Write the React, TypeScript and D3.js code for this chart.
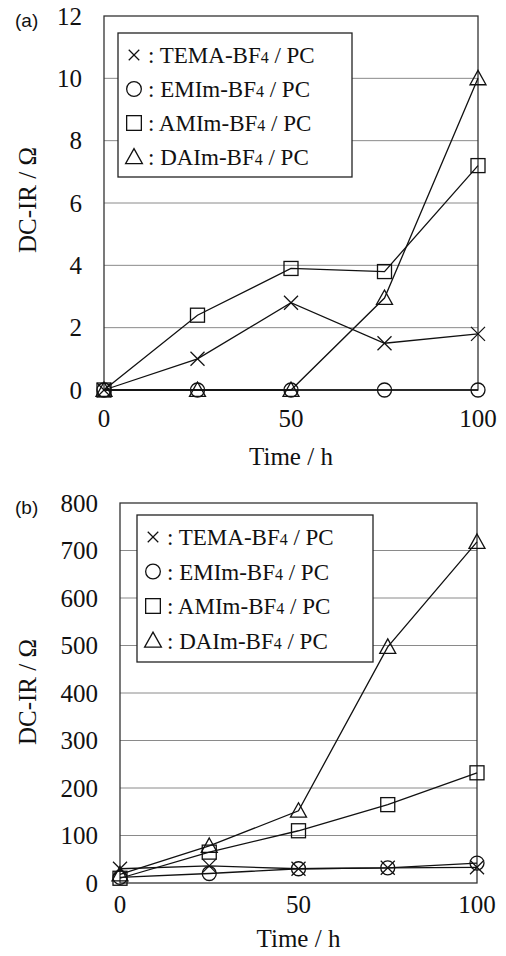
import React from "react";
import * as d3 from "d3";

// time axis (h)
const times = [0, 25, 50, 75, 100];

// panel (a) DC-IR / ohm
const temaA = [0, 1.0, 2.8, 1.5, 1.8];
const emimA = [0, 0, 0, 0, 0];
const amimA = [0, 2.4, 3.9, 3.8, 7.2];
const daimA = [0, 0, 0, 2.95, 10.0];

// panel (b) DC-IR / ohm
const temaB = [30, 36, 30, 32, 33];
const emimB = [12, 20, 30, 32, 42];
const amimB = [10, 65, 110, 165, 232];
const daimB = [18, 78, 152, 497, 718];

const yTicksA = [0, 2, 4, 6, 8, 10, 12];
const yTicksB = [0, 100, 200, 300, 400, 500, 600, 700, 800];
const xTicks = [0, 50, 100];

const seriesNames = ["TEMA", "EMIm", "AMIm", "DAIm"];
const markerKinds = ["x", "circle", "square", "triangle"];

const serif = "'Liberation Serif', 'Times New Roman', serif";
const sans = "'Liberation Sans', Arial, sans-serif";

const Marker = ({ kind, x, y, s = 1 }) => {
  const st = { fill: "none", stroke: "#111", strokeWidth: 1.3 };
  if (kind === "x") {
    const d = 7 * s;
    return (
      <g style={st}>
        <line x1={x - d} y1={y - d} x2={x + d} y2={y + d} />
        <line x1={x - d} y1={y + d} x2={x + d} y2={y - d} />
      </g>
    );
  }
  if (kind === "circle") return <circle cx={x} cy={y} r={7 * s} style={st} />;
  if (kind === "square")
    return <rect x={x - 7 * s} y={y - 7 * s} width={14 * s} height={14 * s} style={st} />;
  const h = 8 * s;
  return (
    <polygon
      points={`${x},${y - h} ${x + h},${y + h * 0.8} ${x - h},${y + h * 0.8}`}
      style={st}
    />
  );
};

const Panel = ({ tag, left, right, top, bottom, yMax, yTicks, series, legend, tickGap, titleGap, labelY }) => {
  const x = d3.scaleLinear().domain([0, 100]).range([left, right]);
  const y = d3.scaleLinear().domain([0, yMax]).range([bottom, top]);
  const line = d3
    .line<number>()
    .x((_, i) => x(times[i]))
    .y((v) => y(v));

  return (
    <g>
      {yTicks.map((t) => (
        <g key={t}>
          {t > 0 && t < yMax && (
            <line x1={left} x2={right} y1={y(t)} y2={y(t)} stroke="#8a8a8a" strokeWidth={1} />
          )}
          <text
            x={left - 22}
            y={y(t)}
            dy="0.35em"
            textAnchor="end"
            fontFamily={serif}
            fontSize={25}
            fill="#111"
          >
            {t}
          </text>
        </g>
      ))}
      <rect
        x={left}
        y={top}
        width={right - left}
        height={bottom - top}
        fill="none"
        stroke="#333"
        strokeWidth={1.3}
      />
      {xTicks.map((t) => (
        <text
          key={t}
          x={x(t)}
          y={bottom + tickGap}
          dy="0.35em"
          textAnchor="middle"
          fontFamily={serif}
          fontSize={25}
          fill="#111"
        >
          {t}
        </text>
      ))}
      <text
        x={(left + right) / 2}
        y={bottom + titleGap}
        dy="0.35em"
        textAnchor="middle"
        fontFamily={serif}
        fontSize={25}
        fill="#111"
      >
        Time / h
      </text>
      <text
        transform={`translate(27,${labelY}) rotate(-90)`}
        dy="0.35em"
        textAnchor="middle"
        fontFamily={serif}
        fontSize={25}
        fill="#111"
      >
        DC-IR / Ω
      </text>
      <text x={15} y={top + 11} fontFamily={sans} fontSize={19} fill="#111">
        {tag}
      </text>

      {series.map((vals, k) => (
        <g key={k}>
          <path d={line(vals) || ""} fill="none" stroke="#111" strokeWidth={1.3} />
          {vals.map((v, i) => (
            <Marker key={i} kind={markerKinds[k]} x={x(times[i])} y={y(v)} />
          ))}
        </g>
      ))}

      <rect
        x={legend.x}
        y={legend.y}
        width={legend.w}
        height={legend.h}
        fill="#fff"
        stroke="#222"
        strokeWidth={1.3}
      />
      {seriesNames.map((name, k) => {
        const cy = legend.y + 22 + k * legend.step;
        const mx = legend.x + 16;
        return (
          <g key={name}>
            <Marker kind={markerKinds[k]} x={mx} y={cy} s={k === 0 ? 0.75 : 1.05} />
            <text
              x={mx + 14}
              y={cy}
              dy="0.35em"
              fontFamily={serif}
              fontSize={23}
              fill="#111"
            >
              {`: ${name}-BF`}
              <tspan fontSize={16}>4</tspan>
              {" / PC"}
            </text>
          </g>
        );
      })}
    </g>
  );
};

export default function App() {
  return (
    <svg
      width={506}
      height={956}
      viewBox="0 0 506 956"
      style={{ position: "absolute", left: 0, top: 0, background: "#fff" }}
    >
      <rect width={506} height={956} fill="#fff" />
      <Panel
        tag="(a)"
        left={104}
        right={478}
        top={16}
        bottom={390}
        yMax={12}
        yTicks={yTicksA}
        series={[temaA, emimA, amimA, daimA]}
        legend={{ x: 118, y: 33, w: 234, h: 144, step: 34 }}
        tickGap={28}
        titleGap={66}
        labelY={200}
      />
      <Panel
        tag="(b)"
        left={120}
        right={477}
        top={503}
        bottom={883}
        yMax={800}
        yTicks={yTicksB}
        series={[temaB, emimB, amimB, daimB]}
        legend={{ x: 137, y: 515, w: 236, h: 147, step: 34.5 }}
        tickGap={21}
        titleGap={55}
        labelY={692}
      />
    </svg>
  );
}
